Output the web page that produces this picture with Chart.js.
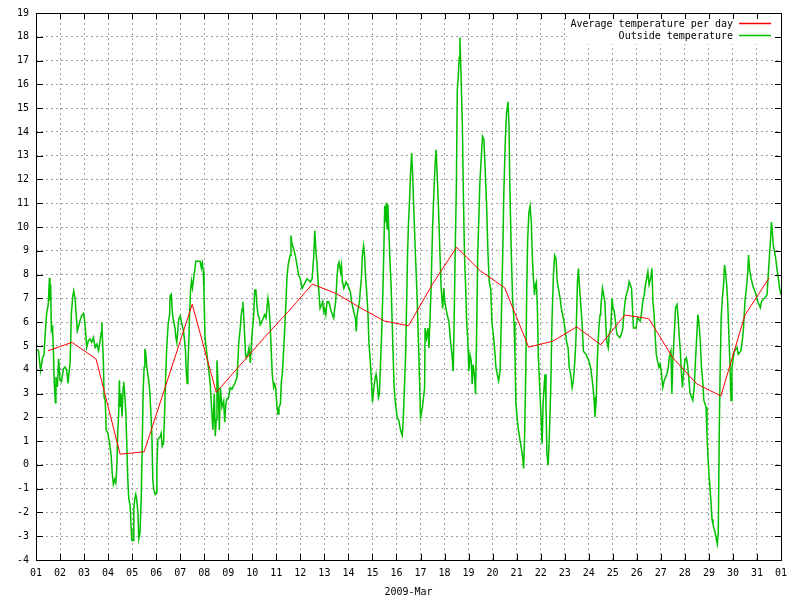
<!DOCTYPE html>
<html>
<head>
<meta charset="utf-8">
<title>Temperature 2009-Mar</title>
<script src="https://cdn.jsdelivr.net/npm/chart.js@4.4.0/dist/chart.umd.min.js"></script>
<style>
  html, body { margin: 0; padding: 0; background: #fff; }
  #chart { display: block; }
</style>
</head>
<body>
<canvas id="chart" width="800" height="600"></canvas>
<script>
// x tick labels: day of month, the last one is 1 April
const dayLabels = ['01', '02', '03', '04', '05', '06', '07', '08', '09', '10',
    '11', '12', '13', '14', '15', '16', '17', '18', '19', '20',
    '21', '22', '23', '24', '25', '26', '27', '28', '29', '30', '31', '01'];

// daily average, plotted at noon (days since 1 Mar 00:00)
const avgDays = [0.5, 1.5, 2.5, 3.5, 4.5, 5.5, 6.5, 7.5, 8.5, 9.5,
    10.5, 11.5, 12.5, 13.5, 14.5, 15.5, 16.5, 17.5, 18.5, 19.5,
    20.5, 21.5, 22.5, 23.5, 24.5, 25.5, 26.5, 27.5, 28.5, 29.5, 30.5];
const avgTemps = [4.8, 5.15, 4.45, 0.45, 0.55, 3.65, 6.75, 3.05, 4.2, 5.35,
    6.45, 7.6, 7.2, 6.6, 6.05, 5.85, 7.6, 9.15, 8.15, 7.45,
    4.95, 5.2, 5.8, 5.05, 6.3, 6.15, 4.5, 3.4, 2.9, 6.3, 7.85];

// outside sensor readings (days since 1 Mar 00:00)
const outsideDays = [
    0, 0.10, 0.19, 0.28, 0.33, 0.38, 0.44, 0.51, 0.56, 0.58, 0.61, 0.64, 0.69, 0.72, 0.76, 0.81, 0.83, 0.89, 0.94,
    1.0, 1.06, 1.14, 1.21, 1.28, 1.33, 1.42, 1.47, 1.53, 1.57, 1.63, 1.67, 1.72, 1.78, 1.83, 1.9, 1.97,
    2.01, 2.06, 2.11, 2.18, 2.25, 2.32, 2.39, 2.46, 2.53, 2.6, 2.67, 2.71, 2.74, 2.78, 2.81, 2.83, 2.88, 2.92, 2.99,
    3.06, 3.13, 3.17, 3.22, 3.28, 3.32, 3.36, 3.4, 3.44, 3.47, 3.5, 3.54, 3.58, 3.63, 3.65, 3.69, 3.74, 3.78, 3.82, 3.86, 3.92, 3.96, 3.99,
    4.04, 4.07, 4.11, 4.15, 4.19, 4.24, 4.28, 4.33, 4.38, 4.42, 4.46, 4.5, 4.53, 4.57, 4.61, 4.69, 4.74, 4.78, 4.82, 4.86, 4.9, 4.96,
    5.0, 5.03, 5.07, 5.17, 5.21, 5.25, 5.31, 5.35, 5.39, 5.44, 5.5, 5.56, 5.58, 5.63, 5.68, 5.72, 5.78, 5.82, 5.86, 5.9, 5.94,
    6.0, 6.07, 6.14, 6.18, 6.22, 6.25, 6.29, 6.32, 6.36, 6.39, 6.43, 6.47, 6.51, 6.56, 6.61, 6.65, 6.76, 6.83, 6.88, 6.92, 6.96, 6.99,
    7.03, 7.08, 7.14, 7.25, 7.32, 7.36, 7.42, 7.46, 7.5, 7.53, 7.57, 7.63, 7.67, 7.74, 7.81, 7.85, 7.9, 7.94,
    8.01, 8.08, 8.15, 8.22, 8.29, 8.36, 8.4, 8.44, 8.5, 8.54, 8.58, 8.61, 8.64, 8.68, 8.72, 8.75, 8.81, 8.86, 8.92, 8.96,
    9.0, 9.06, 9.1, 9.15, 9.19, 9.24, 9.29, 9.33, 9.43, 9.51, 9.57, 9.61, 9.65, 9.69, 9.75, 9.79, 9.83, 9.89, 9.93, 9.97,
    10.03, 10.07, 10.11, 10.17, 10.21, 10.25, 10.31, 10.35, 10.39, 10.44, 10.49, 10.57, 10.61, 10.65, 10.72, 10.79, 10.86, 10.93,
    11.0, 11.07, 11.14, 11.28, 11.42, 11.49, 11.56, 11.6, 11.65, 11.69, 11.74, 11.78, 11.82, 11.88, 11.93, 11.97,
    12.01, 12.06, 12.11, 12.18, 12.29, 12.39, 12.43, 12.47, 12.53, 12.57, 12.61, 12.67, 12.71, 12.75, 12.81, 12.9,
    13.0, 13.08, 13.13, 13.22, 13.29, 13.33, 13.36, 13.46, 13.5, 13.54, 13.58, 13.63, 13.67, 13.71, 13.75, 13.81, 13.85, 13.89, 13.94,
    14.0, 14.06, 14.11, 14.15, 14.19, 14.25, 14.29, 14.33, 14.38, 14.43, 14.47, 14.51, 14.56, 14.58, 14.61, 14.64, 14.68, 14.72, 14.78, 14.82, 14.86, 14.9, 14.96,
    15.03, 15.1, 15.17, 15.24, 15.28, 15.33, 15.38, 15.42, 15.46, 15.5, 15.54, 15.58, 15.63, 15.67, 15.72, 15.79, 15.86, 15.93,
    16.0, 16.07, 16.11, 16.17, 16.19, 16.25, 16.31, 16.35, 16.39, 16.44, 16.5, 16.56, 16.61, 16.65, 16.69, 16.75, 16.81, 16.86, 16.92, 16.97,
    17.01, 17.06, 17.11, 17.18, 17.25, 17.31, 17.36, 17.4, 17.44, 17.49, 17.53, 17.57, 17.61, 17.64, 17.68, 17.74, 17.78, 17.83, 17.88, 17.92, 17.97,
    18.01, 18.06, 18.11, 18.15, 18.19, 18.24, 18.29, 18.33, 18.38, 18.43, 18.47, 18.53, 18.58, 18.64, 18.69, 18.75, 18.81, 18.86, 18.92, 18.97,
    19.03, 19.08, 19.14, 19.25, 19.31, 19.36, 19.42, 19.47, 19.53, 19.58, 19.64, 19.68, 19.72, 19.78, 19.83, 19.89, 19.93, 19.97,
    20.03, 20.08, 20.14, 20.19, 20.25, 20.29, 20.33, 20.38, 20.42, 20.46, 20.51, 20.56, 20.61, 20.65, 20.69, 20.74, 20.78, 20.82, 20.86, 20.9, 20.96,
    21.01, 21.06, 21.1, 21.14, 21.18, 21.22, 21.26, 21.31, 21.36, 21.42, 21.47, 21.53, 21.58, 21.64, 21.69, 21.81, 21.86, 21.97,
    22.08, 22.14, 22.19, 22.25, 22.31, 22.36, 22.42, 22.47, 22.53, 22.57, 22.61, 22.67, 22.72, 22.78, 22.89,
    23.01, 23.08, 23.15, 23.22, 23.26, 23.31, 23.36, 23.42, 23.47, 23.5, 23.57, 23.67, 23.71, 23.75, 23.81, 23.85, 23.92, 23.97,
    24.01, 24.06, 24.11, 24.17, 24.29, 24.36, 24.42, 24.47, 24.53, 24.64, 24.68, 24.78, 24.82, 24.86, 24.97,
    25.03, 25.14, 25.19, 25.25, 25.31, 25.36, 25.46, 25.51, 25.58, 25.63, 25.67, 25.72, 25.76, 25.81, 25.86, 25.92, 25.97,
    26.03, 26.08, 26.14, 26.25, 26.31, 26.35, 26.42, 26.46, 26.5, 26.56, 26.61, 26.67, 26.72, 26.76, 26.81, 26.86, 26.9, 26.94,
    27.0, 27.06, 27.11, 27.17, 27.22, 27.28, 27.33, 27.39, 27.44, 27.5, 27.54, 27.58, 27.64, 27.69, 27.74, 27.79, 27.88, 27.92, 27.96,
    28.0, 28.04, 28.08, 28.13, 28.17, 28.22, 28.26, 28.31, 28.35, 28.39, 28.43, 28.47, 28.51, 28.56, 28.61, 28.65, 28.69, 28.74, 28.78, 28.83, 28.88, 28.92, 28.96,
    29.0, 29.06, 29.17, 29.22, 29.33, 29.39, 29.44, 29.5, 29.56, 29.61, 29.65, 29.69, 29.75, 29.86, 29.92,
    30.03, 30.14, 30.19, 30.31, 30.42, 30.47, 30.53, 30.56, 30.6, 30.64, 30.68, 30.78, 30.83, 30.89, 30.94, 31.0
];
const outsideTemps = [
    4.88, 4.8, 3.97, 4.53, 4.6, 5.47, 6.33, 6.75, 7.86, 6.9, 7.58, 5.64, 5.78, 4.94, 3.42, 2.61, 3.69, 3.28, 4.46,
    3.56, 3.49, 4.04, 4.11, 3.97, 3.42, 4.32, 6.33, 7.1, 7.31, 6.96, 6.33, 5.64, 5.85, 6.06, 6.26, 6.36,
    6.19, 5.64, 4.94, 5.22, 5.29, 5.15, 5.36, 4.94, 5.08, 4.81, 5.22, 5.57, 5.99, 4.94, 4.11, 2.86, 2.72, 1.47, 1.33,
    0.92, 0.36, -0.33, -0.82, -0.61, -0.75, -0.19, 1.33, 2.17, 3.56, 2.44, 3.0, 2.03, 3.28, 3.49, 3.0, 2.17, 0.78, -0.61, -1.44, -1.72, -2.69, -3.18,
    -3.18, -1.86, -1.44, -1.24, -1.44, -2.0, -3.11, -2.83, -1.31, 0.78, 3.14, 4.11, 4.88, 4.67, 4.11, 3.56, 3.0, 2.17, 1.33, -0.61, -1.03, -1.24,
    -1.17, -0.06, 1.06, 1.19, 1.33, 0.78, 0.92, 2.17, 3.56, 4.94, 5.92, 6.33, 7.1, 7.17, 6.33, 6.06, 5.78, 5.36, 5.15, 5.64, 6.13,
    6.26, 5.92, 5.64, 5.22, 4.81, 3.97, 3.42, 4.11, 5.22, 6.33, 7.31, 7.72, 7.44, 7.86, 8.21, 8.56, 8.56, 8.56, 8.28, 8.49, 8.14, 7.3,
    5.36, 4.94, 4.4, 3.4, 2.17, 1.47, 3.0, 1.2, 1.9, 4.4, 3.55, 1.47, 3.25, 2.42, 2.69, 1.79, 2.56, 2.76,
    2.83, 3.25, 3.18, 3.32, 3.46, 3.67, 4.36, 5.19, 5.75, 6.31, 6.58, 6.86, 6.31, 5.47, 4.64, 4.5, 4.64, 4.92, 4.29, 5.06,
    5.61, 6.31, 7.35, 7.35, 6.72, 6.31, 6.17, 5.89, 6.1, 6.31, 6.17, 6.58, 7.0, 6.72, 5.75, 4.78, 3.81, 3.25, 3.39, 3.25,
    2.42, 2.14, 2.42, 2.56, 3.53, 3.81, 4.92, 5.75, 6.58, 7.83, 8.39, 8.81, 9.64, 9.29, 9.08, 8.81, 8.39, 7.97,
    7.83, 7.42, 7.56, 7.83, 7.69, 7.83, 8.81, 9.85, 8.94, 8.53, 7.69, 7.14, 6.58, 6.72, 6.86, 6.44,
    6.58, 6.31, 6.86, 6.86, 6.44, 6.17, 6.58, 6.86, 7.97, 8.39, 8.53, 8.11, 8.39, 7.69, 7.42, 7.69,
    7.49, 7.28, 6.86, 6.44, 6.17, 5.61, 6.31, 6.86, 7.42, 7.83, 8.81, 9.22, 8.81, 7.97, 7.42, 6.44, 5.19, 4.64, 3.88,
    2.63, 3.25, 3.6, 3.81, 3.53, 2.83, 2.97, 4.08, 5.47, 7.14, 8.81, 10.89, 10.19, 11.03, 9.92, 10.96, 9.92, 8.81, 7.42, 6.03, 4.64, 3.25, 2.56,
    2.0, 1.86, 1.44, 1.24, 1.86, 3.25, 4.64, 6.72, 8.81, 10.19, 11.03, 12.14, 13.11, 12.28, 10.75, 8.81, 7.0, 4.64,
    2.0, 2.35, 2.69, 3.25, 5.75, 5.33, 5.75, 4.92, 6.03, 7.42, 9.92, 11.58, 12.69, 13.25, 12.28, 10.75, 8.81, 7.42, 6.58, 7.42,
    6.86, 6.58, 6.31, 6.03, 5.19, 4.64, 3.94, 6.03, 8.81, 11.58, 15.75, 16.31, 17.14, 17.97, 16.58, 14.36, 11.58, 8.81, 7.42, 6.03, 5.19,
    3.94, 4.64, 4.36, 3.39, 4.22, 3.81, 2.97, 5.19, 8.81, 10.47, 11.86, 12.97, 13.81, 13.67, 12.42, 10.89, 8.81, 7.69, 7.42, 6.03,
    5.47, 4.92, 4.08, 3.53, 3.94, 6.03, 8.81, 11.58, 13.67, 14.78, 15.26, 14.36, 11.58, 8.81, 7.0, 6.03, 4.64, 2.56,
    1.86, 1.44, 1.03, 0.75, 0.33, -0.15, 1.17, 3.94, 7.42, 9.5, 10.61, 10.89, 10.19, 8.81, 7.97, 7.14, 7.56, 7.69, 6.72, 4.64, 3.25,
    2.14, 0.89, 2.56, 3.25, 3.81, 2.56, 0.47, -0.01, 1.17, 3.25, 6.03, 7.97, 8.81, 8.67, 7.69, 7.0, 6.58, 6.03,
    5.19, 4.92, 4.08, 3.81, 3.25, 3.53, 4.36, 5.33, 7.69, 8.25, 7.56, 6.72, 6.03, 4.78, 4.64,
    4.36, 4.08, 3.53, 2.83, 2.0, 2.69, 4.5, 5.75, 6.31, 6.6, 7.43, 6.88, 5.9, 5.21, 4.93, 5.49, 5.76, 7.01,
    6.6, 6.46, 6.04, 5.49, 5.35, 5.49, 5.76, 6.46, 7.01, 7.43, 7.71, 7.43, 6.6, 5.76, 5.76,
    6.18, 6.04, 6.32, 6.88, 7.15, 7.57, 8.13, 7.57, 7.85, 8.26, 6.88, 6.32, 5.49, 4.65, 4.38, 4.1, 4.24,
    3.82, 3.26, 3.54, 3.82, 4.1, 4.51, 4.79, 2.99, 4.38, 5.49, 6.6, 6.74, 6.18, 5.49, 4.79, 3.82, 3.26, 3.82,
    4.38, 4.51, 4.24, 3.54, 2.99, 2.85, 2.71, 3.26, 4.38, 5.49, 6.32, 6.04, 5.21, 4.1, 3.54, 2.71, 2.43, 1.32, 0.35,
    -0.35, -0.9, -1.46, -2.29, -2.5, -2.71, -2.85, -3.13, -3.33, -2.85, 1.32, 4.1, 6.18, 7.01, 7.57, 8.4, 8.13, 7.57, 6.88, 5.49, 4.1, 2.71, 4.1,
    4.38, 4.79, 4.93, 4.65, 4.79, 5.21, 5.76, 6.88, 7.43, 7.99, 8.82, 8.26, 7.85, 7.43, 7.29,
    6.88, 6.6, 6.88, 7.01, 7.15, 7.99, 8.96, 9.38, 10.21, 9.79, 9.24, 8.68, 8.26, 7.85, 7.43, 7.15
];

const FONT = "'DejaVu Sans Mono', 'Liberation Mono', monospace";
const AVG_COLOR = 'rgb(255, 0, 0)';
const OUTSIDE_COLOR = 'rgb(0, 192, 0)';
Chart.defaults.font.family = FONT;
Chart.defaults.font.size = 10;
Chart.defaults.color = '#000';

// gnuplot style frame: full border, inward ticks, key in the top right corner
const gnuplotFrame = {
    id: 'gnuplotFrame',
    beforeDatasetsDraw(chart) {
        // the key area has no grid behind it
        const a = chart.chartArea;
        const ctx = chart.ctx;
        ctx.save();
        ctx.fillStyle = '#fff';
        ctx.fillRect(567, a.top, a.right - 567, 31);
        ctx.restore();
    },
    afterDraw(chart) {
        const {ctx, chartArea: a, scales} = chart;
        const tick = 6;
        ctx.save();
        ctx.setLineDash([]);
        ctx.strokeStyle = '#000';
        ctx.lineWidth = 1;
        ctx.strokeRect(a.left + 0.5, a.top + 0.5, a.right - a.left, a.bottom - a.top);
        ctx.beginPath();
        scales.x.ticks.forEach(t => {
            const px = Math.round(scales.x.getPixelForValue(t.value)) + 0.5;
            ctx.moveTo(px, a.bottom); ctx.lineTo(px, a.bottom - tick);
            ctx.moveTo(px, a.top); ctx.lineTo(px, a.top + tick);
        });
        scales.y.ticks.forEach(t => {
            const py = Math.round(scales.y.getPixelForValue(t.value)) + 0.5;
            ctx.moveTo(a.left, py); ctx.lineTo(a.left + tick + 1, py);
            ctx.moveTo(a.right + 1, py); ctx.lineTo(a.right - tick, py);
        });
        ctx.stroke();

        // key: right aligned titles, line samples after them
        ctx.font = '10px ' + FONT;
        ctx.textAlign = 'right';
        ctx.textBaseline = 'middle';
        const keyColors = [AVG_COLOR, OUTSIDE_COLOR];
        chart.data.datasets.forEach((ds, i) => {
            const y = 24 + i * 12;
            ctx.fillStyle = '#000';
            ctx.fillText(ds.label, 733, y + 0.5);
            ctx.beginPath();
            ctx.strokeStyle = keyColors[i];
            ctx.lineWidth = 1.5;
            ctx.moveTo(739, y - 0.5);
            ctx.lineTo(771, y - 0.5);
            ctx.stroke();
        });
        ctx.restore();
    }
};

new Chart(document.getElementById('chart'), {
    type: 'line',
    data: {
        datasets: [
            {
                label: 'Average temperature per day',
                data: avgDays.map((d, i) => ({x: d, y: avgTemps[i]})),
                borderColor: AVG_COLOR,
                borderWidth: 1,
                pointRadius: 0,
                tension: 0
            },
            {
                label: 'Outside temperature',
                data: outsideDays.map((d, i) => ({x: d, y: outsideTemps[i]})),
                borderColor: OUTSIDE_COLOR,
                borderWidth: 1.5,
                pointRadius: 0,
                tension: 0
            }
        ]
    },
    options: {
        responsive: false,
        animation: false,
        layout: {padding: {top: 11, right: 19, left: 0, bottom: 0}},
        plugins: {
            legend: {display: false},
            tooltip: {enabled: false}
        },
        scales: {
            x: {
                type: 'linear',
                min: 0,
                max: 31,
                afterFit: s => { s.height = 40; },
                ticks: {
                    stepSize: 1,
                    autoSkip: false,
                    maxRotation: 0,
                    padding: 7,
                    callback: v => dayLabels[v]
                },
                grid: {color: '#a0a0a0', drawTicks: false},
                border: {display: false, dash: [2, 3]},
                title: {
                    display: true,
                    text: '2009-Mar',
                    font: {size: 10, family: FONT},
                    padding: {top: 0, bottom: 2}
                }
            },
            y: {
                min: -4,
                max: 19,
                afterFit: s => { s.width = 36; },
                ticks: {stepSize: 1, autoSkip: false, padding: 7},
                grid: {color: '#a0a0a0', drawTicks: false},
                border: {display: false, dash: [2, 3]}
            }
        }
    },
    plugins: [gnuplotFrame]
});
</script>
</body>
</html>
